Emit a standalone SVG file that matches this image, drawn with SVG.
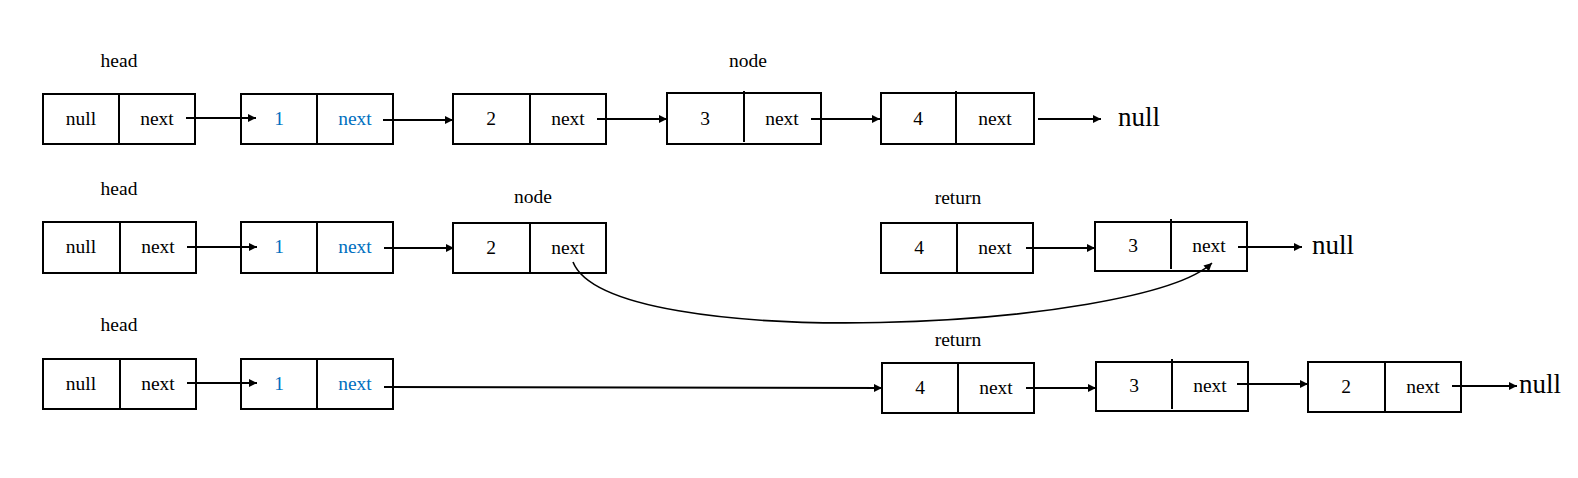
<svg xmlns="http://www.w3.org/2000/svg" width="1578" height="478" viewBox="0 0 1578 478">
<style>
  .box{fill:#fff;stroke:#000;stroke-width:2}
  .div{stroke:#000;stroke-width:2}
  .t{font-family:"Liberation Serif","Times New Roman",serif;font-size:19.5px;fill:#000;text-anchor:middle}
  .b{fill:#0070C0}
  .big{font-family:"Liberation Serif","Times New Roman",serif;font-size:27px;fill:#000}
  .c{stroke:#000;stroke-width:2;fill:none;marker-end:url(#ah)}
  .cv{stroke:#000;stroke-width:1.6;fill:none;marker-end:url(#ah)}
</style>
<defs>
  <marker id="ah" viewBox="0 0 10 10" refX="10" refY="5" markerWidth="8" markerHeight="8" markerUnits="userSpaceOnUse" orient="auto">
    <path d="M0,0 L10,5 L0,10 z" fill="#000"/>
  </marker>
</defs>
<rect width="1578" height="478" fill="#fff"/>

<!-- labels -->
<g id="labels">
  <text class="t" x="119" y="67">head</text>
  <text class="t" x="748" y="67">node</text>
  <text class="t" x="119" y="195">head</text>
  <text class="t" x="533" y="203">node</text>
  <text class="t" x="958" y="204">return</text>
  <text class="t" x="119" y="331">head</text>
  <text class="t" x="958" y="346">return</text>
  <text class="big" x="1118" y="126">null</text>
  <text class="big" x="1312" y="254">null</text>
  <text class="big" x="1519" y="393">null</text>
</g>

<!-- row 1 -->
<g id="r1-head"><rect class="box" x="43" y="94" width="152" height="50"/><line class="div" x1="119" y1="94" x2="119" y2="144"/>
  <text class="t" x="81" y="125">null</text><text class="t" x="157" y="125">next</text></g>
<g id="r1-n1"><rect class="box" x="241" y="94" width="152" height="50"/><line class="div" x1="317" y1="94" x2="317" y2="144"/>
  <text class="t b" x="279" y="125">1</text><text class="t b" x="355" y="125">next</text></g>
<g id="r1-n2"><rect class="box" x="453" y="94" width="153" height="50"/><line class="div" x1="530" y1="94" x2="530" y2="144"/>
  <text class="t" x="491" y="125">2</text><text class="t" x="568" y="125">next</text></g>
<g id="r1-n3"><rect class="box" x="667" y="93" width="154" height="51"/><line class="div" x1="744" y1="91" x2="744" y2="142"/>
  <text class="t" x="705" y="125">3</text><text class="t" x="782" y="125">next</text></g>
<g id="r1-n4"><rect class="box" x="881" y="93" width="153" height="51"/><line class="div" x1="956" y1="91" x2="956" y2="144"/>
  <text class="t" x="918" y="125">4</text><text class="t" x="995" y="125">next</text></g>

<!-- row 2 -->
<g id="r2-head"><rect class="box" x="43" y="222" width="153" height="51"/><line class="div" x1="120" y1="222" x2="120" y2="273"/>
  <text class="t" x="81" y="253">null</text><text class="t" x="158" y="253">next</text></g>
<g id="r2-n1"><rect class="box" x="241" y="222" width="152" height="51"/><line class="div" x1="317" y1="222" x2="317" y2="273"/>
  <text class="t b" x="279" y="253">1</text><text class="t b" x="355" y="253">next</text></g>
<g id="r2-n2"><rect class="box" x="453" y="223" width="153" height="50"/><line class="div" x1="530" y1="223" x2="530" y2="273"/>
  <text class="t" x="491" y="254">2</text><text class="t" x="568" y="254">next</text></g>
<g id="r2-n4"><rect class="box" x="881" y="223" width="152" height="50"/><line class="div" x1="957" y1="223" x2="957" y2="273"/>
  <text class="t" x="919" y="254">4</text><text class="t" x="995" y="254">next</text></g>
<g id="r2-n3"><rect class="box" x="1095" y="222" width="152" height="49"/><line class="div" x1="1171" y1="219" x2="1171" y2="269"/>
  <text class="t" x="1133" y="252">3</text><text class="t" x="1209" y="252">next</text></g>

<!-- row 3 -->
<g id="r3-head"><rect class="box" x="43" y="359" width="153" height="50"/><line class="div" x1="120" y1="359" x2="120" y2="409"/>
  <text class="t" x="81" y="390">null</text><text class="t" x="158" y="390">next</text></g>
<g id="r3-n1"><rect class="box" x="241" y="359" width="152" height="50"/><line class="div" x1="317" y1="359" x2="317" y2="409"/>
  <text class="t b" x="279" y="390">1</text><text class="t b" x="355" y="390">next</text></g>
<g id="r3-n4"><rect class="box" x="882" y="363" width="152" height="50"/><line class="div" x1="958" y1="363" x2="958" y2="413"/>
  <text class="t" x="920" y="394">4</text><text class="t" x="996" y="394">next</text></g>
<g id="r3-n3"><rect class="box" x="1096" y="362" width="152" height="49"/><line class="div" x1="1172" y1="359" x2="1172" y2="409"/>
  <text class="t" x="1134" y="392">3</text><text class="t" x="1210" y="392">next</text></g>
<g id="r3-n2"><rect class="box" x="1308" y="362" width="153" height="50"/><line class="div" x1="1385" y1="362" x2="1385" y2="412"/>
  <text class="t" x="1346" y="393">2</text><text class="t" x="1423" y="393">next</text></g>

<!-- connectors -->
<g id="connectors">
  <line class="c" x1="186" y1="118" x2="256" y2="118"/>
  <line class="c" x1="383" y1="120" x2="453" y2="120"/>
  <line class="c" x1="597" y1="119" x2="667" y2="119"/>
  <line class="c" x1="811" y1="119" x2="880" y2="119"/>
  <line class="c" x1="1038" y1="119" x2="1101" y2="119"/>

  <line class="c" x1="187" y1="247" x2="257" y2="247"/>
  <line class="c" x1="384" y1="248" x2="454" y2="248"/>
  <line class="c" x1="1026" y1="248" x2="1095" y2="248"/>
  <line class="c" x1="1238" y1="247" x2="1302" y2="247"/>
  <path class="cv" d="M573,262 C610,355 1141,330 1212,263"/>

  <line class="c" x1="187" y1="383" x2="257" y2="383"/>
  <line class="c" x1="384" y1="387" x2="882" y2="388"/>
  <line class="c" x1="1026" y1="388" x2="1096" y2="388"/>
  <line class="c" x1="1237" y1="384" x2="1308" y2="384"/>
  <line class="c" x1="1452" y1="386" x2="1517" y2="386"/>
</g>
</svg>
